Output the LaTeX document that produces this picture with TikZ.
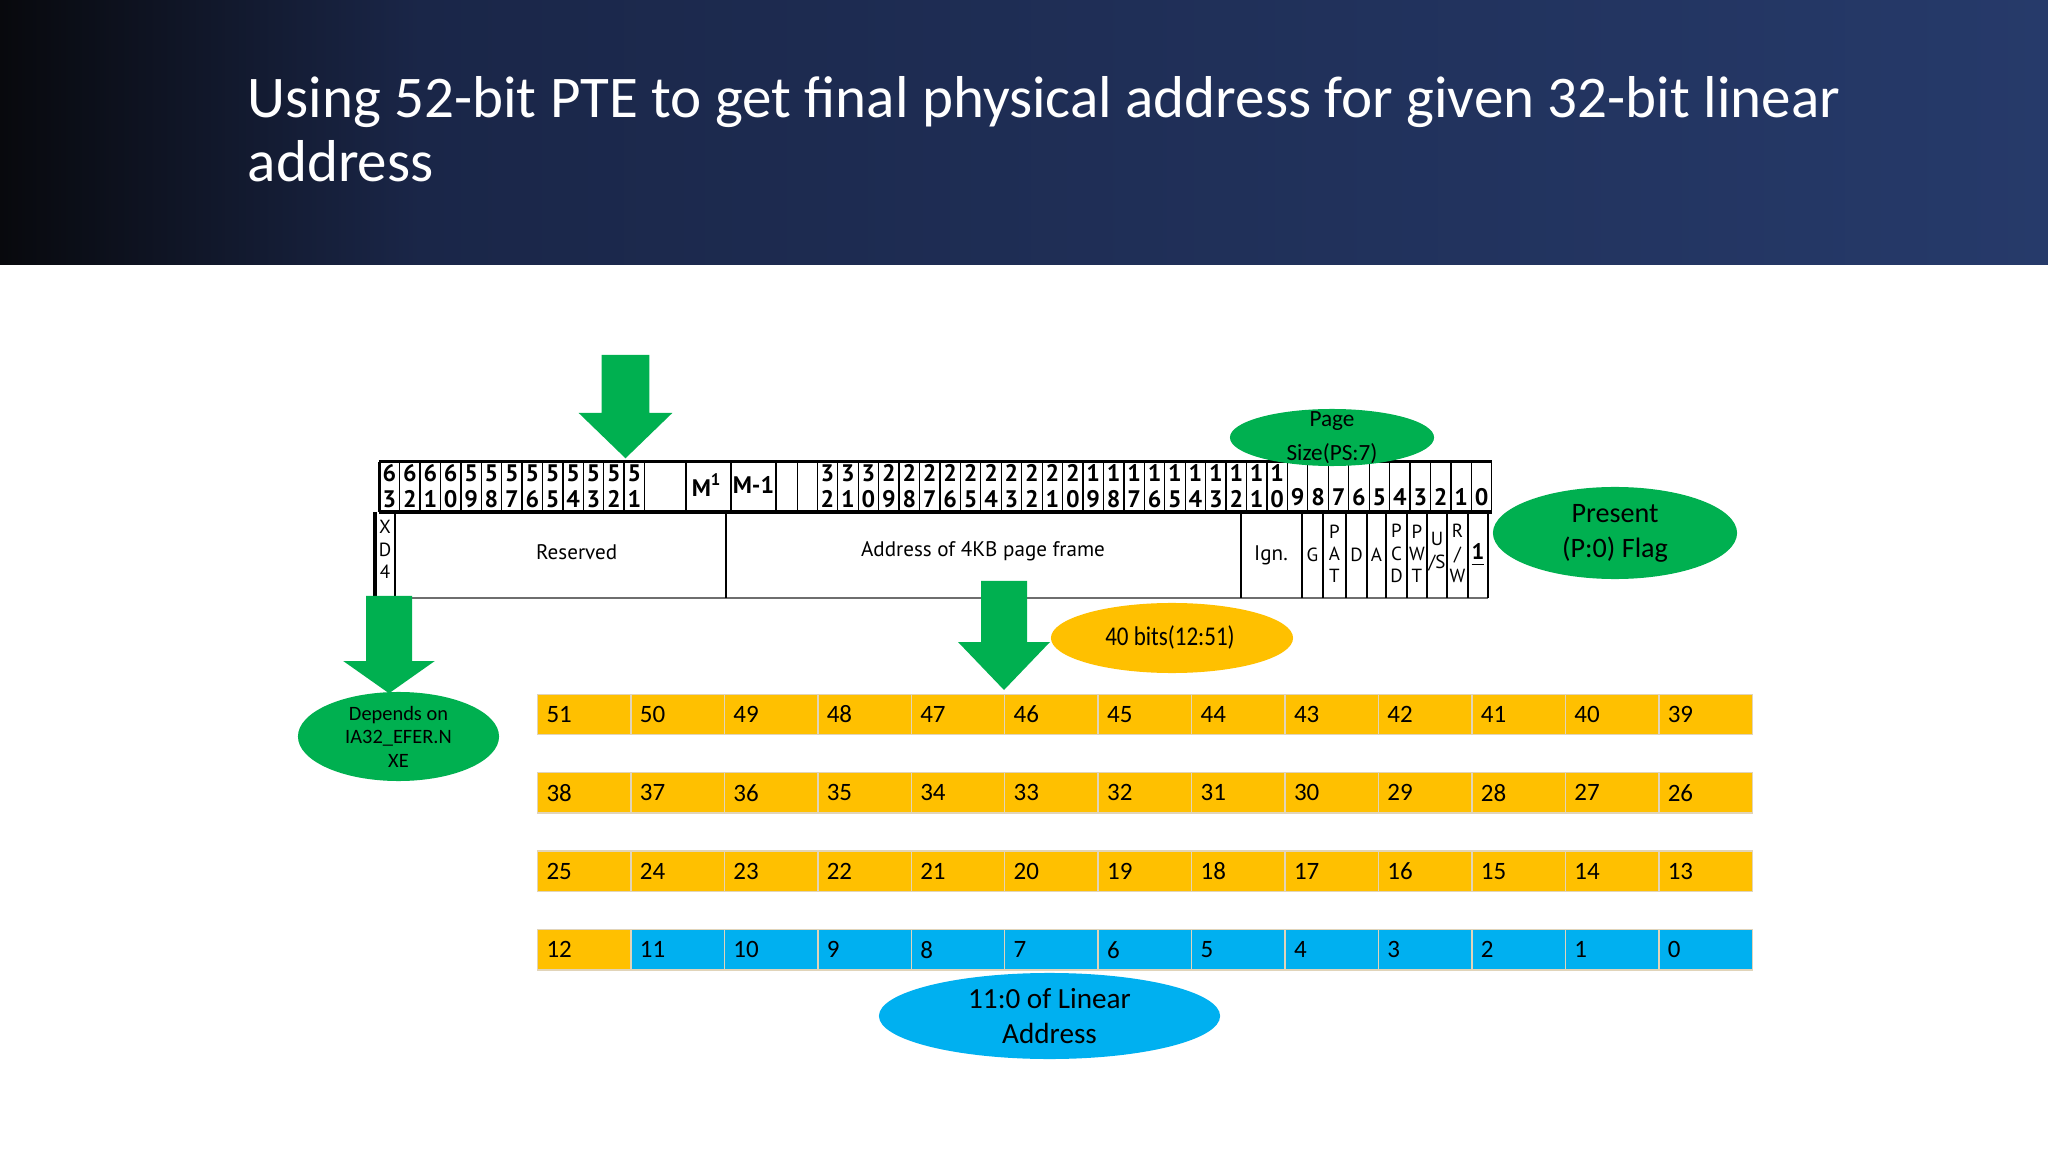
\documentclass[tikz,border=0pt]{standalone}
\usepackage{fontspec}
\setmainfont{Carlito}
\newfontfamily\narrowfont{Carlito}[FakeStretch=0.85]
\newfontfamily\tablefont{PT Sans}
\usetikzlibrary{shapes.geometric}
\definecolor{slidegreen}{RGB}{0,176,80}
\definecolor{pteorange}{RGB}{255,192,0}
\definecolor{linearblue}{RGB}{0,176,240}
\definecolor{bandleft}{RGB}{8,9,13}
\definecolor{bandmid}{RGB}{26,38,72}
\definecolor{bandright}{RGB}{38,58,106}
\definecolor{cellline}{RGB}{225,212,185}
\definecolor{rowline}{RGB}{110,110,110}
\newcommand{\greenarrow}[6]{%
  \fill[slidegreen] ({#1-#5},#2) -- ({#1+#5},#2) -- ({#1+#5},#3) -- ({#1+#6},#3) -- (#1,#4) -- ({#1-#6},#3) -- ({#1-#5},#3) -- cycle;}
\tikzset{
  oval/.style={ellipse, inner sep=0pt},
  ovaltext/.style={align=center, inner sep=0pt},
  bitcell/.style={anchor=north west, draw=cellline, line width=0.4pt, minimum height=0.405cm,
    text width=0.7544cm, inner xsep=0.09cm, inner ysep=0pt, align=left, font=\fontsize{7.1}{8}\selectfont},
  hdigit/.style={inner sep=0pt, align=center, font=\tablefont\bfseries\fontsize{6.8}{7.5}\selectfont},
  flagtext/.style={inner sep=0pt, align=center, font=\tablefont\fontsize{5.4}{6.3}\selectfont},
  fieldtext/.style={inner sep=0pt, font=\tablefont\fontsize{6}{7}\selectfont},
  cellrule/.style={line width=0.35pt, draw=black},
}

\begin{document}
\begin{tikzpicture}[x=0.01cm,y=-0.01cm]
  \useasboundingbox (0,0) rectangle (2048,1152);
  \fill[white] (0,0) rectangle (2048,1152);
  \shade[left color=bandleft, right color=bandmid] (0,0) rectangle (420,265);
  \shade[left color=bandmid, right color=bandright] (420,0) rectangle (2048,265);
  \node[anchor=base west, inner sep=0pt, align=left, text=white, font=\fontsize{16.8}{18.2}\selectfont] (title) at (247,181.5)
    {Using 52-bit PTE to get final physical address for given 32-bit linear\\address};

  % page table entry bits
  \draw[cellrule] (379.3,461.7) -- (379.3,512);
  \foreach \k in {1,...,13}
    \draw[cellrule] ({379.3+20.4*\k},461.7) -- ({379.3+20.4*\k},512);
  \foreach \x in {686,731,776,797.3}
    \draw[cellrule] (\x,461.7) -- (\x,512);
  \foreach \k in {0,...,33}
    \draw[cellrule] ({817.3+20.44*\k},461.7) -- ({817.3+20.44*\k},512);
  \draw[line width=1pt] (379.3,461.7) -- (1492,461.7);
  \draw[line width=1pt] (379.3,512) -- (1492,512);
  \draw[line width=1pt] (379.3,461.7) -- (379.3,512);
  \foreach \hi/\lo [count=\i from 0] in {6/3,6/2,6/1,6/0,5/9,5/8,5/7,5/6,5/5,5/4,5/3,5/2,5/1}
    \node[hdigit] (hbit\hi\lo) at ({389.5+20.4*\i},486) {\hi\\\lo};
  \foreach \hi/\lo [count=\i from 0] in {3/2,3/1,3/0,2/9,2/8,2/7,2/6,2/5,2/4,2/3,2/2,2/1,2/0,1/9,1/8,1/7,1/6,1/5,1/4,1/3,1/2,1/1,1/0}
    \node[hdigit] (hbit\hi\lo) at ({827.52+20.44*\i},486) {\hi\\\lo};
  \foreach \b [count=\i from 23] in {9,8,7,6,5,4,3,2,1,0}
    \node[hdigit, anchor=base] (hbit\b) at ({827.52+20.44*\i},506) {\b};
  \node[hdigit] (mhigh) at (707,485) {M\textsuperscript{1}};
  \node[hdigit] (mlow) at (753.5,485) {M-1};

  % fields
  \draw[line width=1pt] (375,512) -- (375,598);
  \draw[rowline, line width=0.4pt] (375,598) -- (1488,598);
  \foreach \x in {395,726,1241,1302,1323,1346,1367,1386,1407,1427,1447,1468,1488}
    \draw[cellrule] (\x,512) -- (\x,598);
  \node[flagtext] (xd) at (385,549.5) {X\\D\\4};
  \node[fieldtext] (reserved) at (576.7,551.7) {Reserved};
  \node[fieldtext] (frame) at (983,551.7) {Address of 4KB page frame};
  \node[fieldtext] (ign) at (1271,555) {Ign.};
  \node[flagtext] (g) at (1312.5,555) {G};
  \node[flagtext] (pat) at (1334.5,553.5) {P\\A\\T};
  \node[flagtext] (dirty) at (1356.5,555) {D};
  \node[flagtext] (acc) at (1376.5,555) {A};
  \node[flagtext] (pcd) at (1396.5,553.5) {P\\C\\D};
  \node[flagtext] (pwt) at (1417,553.5) {P\\W\\T};
  \node[flagtext] (us) at (1437,551.7) {U\\/S};
  \node[flagtext] (rw) at (1457.5,553.5) {R\\/\\W};
  \node[fieldtext, font=\tablefont\bfseries\fontsize{6.4}{7}\selectfont] (pbit) at (1478,555) {\underline{1}};

  % physical address bits
  \foreach \r in {0,...,3}{
    \foreach \c in {0,...,12}{
      \pgfmathtruncatemacro{\bit}{51-13*\r-\c}
      \ifnum\bit<12 \def\cellfill{linearblue}\else\def\cellfill{pteorange}\fi
      \node[bitcell, fill=\cellfill] (cell\bit) at ({536.8+93.44*\c},{693.5+78.4*\r}) {\bit};
    }
  }

  \greenarrow{625.5}{355}{413}{458.3}{23.8}{46.8}
  \greenarrow{389}{596}{661}{693.3}{23}{45.8}
  \greenarrow{1004}{581}{642}{690}{23}{46}

  \node[oval, fill=slidegreen, minimum width=2.04cm, minimum height=0.57cm] (pagesize) at (1332,437.5) {};
  \node[ovaltext, font=\fontsize{6.6}{9.6}\selectfont] (pagesizetext) at (pagesize.center) {Page\\Size(PS:7)};
  \node[oval, fill=slidegreen, minimum width=2.44cm, minimum height=0.92cm] (present) at (1615,533) {};
  \node[ovaltext, font=\fontsize{8}{10}\selectfont] (presenttext) at (present.center) {Present\\(P:0) Flag};
  \node[oval, fill=pteorange, minimum width=2.42cm, minimum height=0.70cm] (fortybits) at (1172,638) {};
  \node[ovaltext, font=\narrowfont\fontsize{7.7}{9}\selectfont] (fortybitstext) at (1170,637) {40 bits(12:51)};
  \node[oval, fill=slidegreen, minimum width=2.01cm, minimum height=0.89cm] (nxe) at (398.5,736.5) {};
  \node[ovaltext, font=\fontsize{5.8}{6.7}\selectfont] (nxetext) at (nxe.center) {Depends on\\IA32\_EFER.N\\XE};
  \node[oval, fill=linearblue, minimum width=3.41cm, minimum height=0.86cm] (linear) at (1049.5,1016) {};
  \node[ovaltext, font=\fontsize{8.3}{10}\selectfont] (lineartext) at (linear.center) {11:0 of Linear\\Address};
\end{tikzpicture}
\end{document}
